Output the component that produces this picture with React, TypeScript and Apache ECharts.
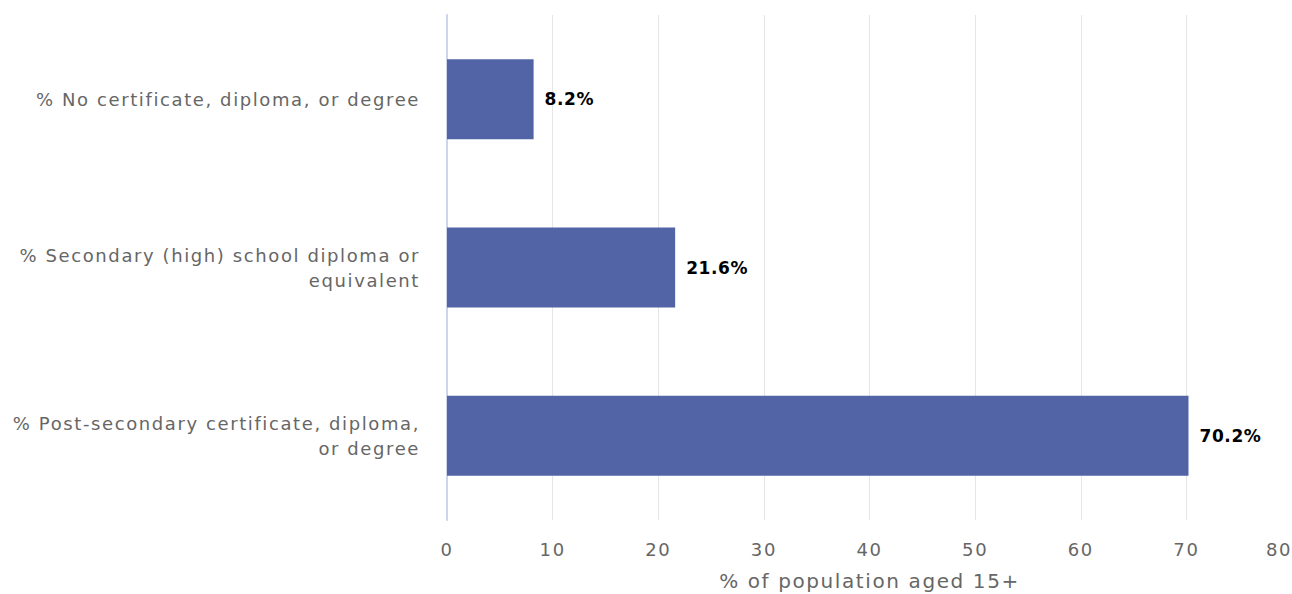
import React, { useEffect, useRef } from "react";
import * as echarts from "echarts";

const categories = [
  "% No certificate, diploma, or degree",
  "% Secondary (high) school diploma or\nequivalent",
  "% Post-secondary certificate, diploma,\nor degree",
];
const values = [8.2, 21.6, 70.2];
const xAxisTitle = "% of population aged 15+";

export default function App() {
  const ref = useRef<HTMLDivElement>(null);
  useEffect(() => {
    const chart = echarts.init(ref.current!, null, { renderer: "svg" });
    chart.setOption({
      animation: false,
      grid: { left: 447, right: 0, top: 15, bottom: 74, containLabel: false, outerBoundsMode: "none" },
      xAxis: {
        type: "value",
        min: 0,
        max: 80,
        interval: 10,
        name: xAxisTitle,
        nameLocation: "middle",
        nameGap: 51,
        nameTextStyle: { color: "#666666", fontSize: 20, fontFamily: "DejaVu Sans" },
        axisLine: { show: false },
        axisTick: { show: false },
        axisLabel: {
          color: "#666666",
          fontSize: 18,
          fontFamily: "DejaVu Sans",
          margin: 20,
          alignMaxLabel: "right",
        },
        splitLine: {
          show: true,
          lineStyle: {
            color: ["#e6e6e6", "#e6e6e6", "#e6e6e6", "#e6e6e6", "#e6e6e6", "#e6e6e6", "#e6e6e6", "#e6e6e6", "rgba(0,0,0,0)"],
            width: 1,
          },
        },
      },
      yAxis: {
        type: "category",
        data: categories,
        inverse: true,
        axisLine: { show: true, lineStyle: { color: "#ccd6eb", width: 2 } },
        axisTick: { show: false },
        axisLabel: {
          color: "#666666",
          fontSize: 18,
          fontFamily: "DejaVu Sans",
          margin: 27,
          lineHeight: 25,
          align: "right",
        },
        splitLine: { show: false },
      },
      series: [
        {
          type: "bar",
          data: values,
          barWidth: 80,
          itemStyle: { color: "#5263a6" },
          label: {
            show: true,
            position: "right",
            distance: 11,
            formatter: (p: any) => p.value.toFixed(1) + "%",
            color: "#000000",
            fontSize: 17,
            fontWeight: "bold",
            fontFamily: "DejaVu Sans",
          },
        },
      ],
    });
    return () => chart.dispose();
  }, []);
  return (
    <>
      <style>{`#chartbox text { letter-spacing: 0.6px; } #chartbox text[fill="#666666"], #chartbox text[fill="#666"] { letter-spacing: 1.6px; }`}</style>
      <div id="chartbox" ref={ref} style={{ width: 1292, height: 594, position: "absolute", left: 0, top: 0 }} />
    </>
  );
}
